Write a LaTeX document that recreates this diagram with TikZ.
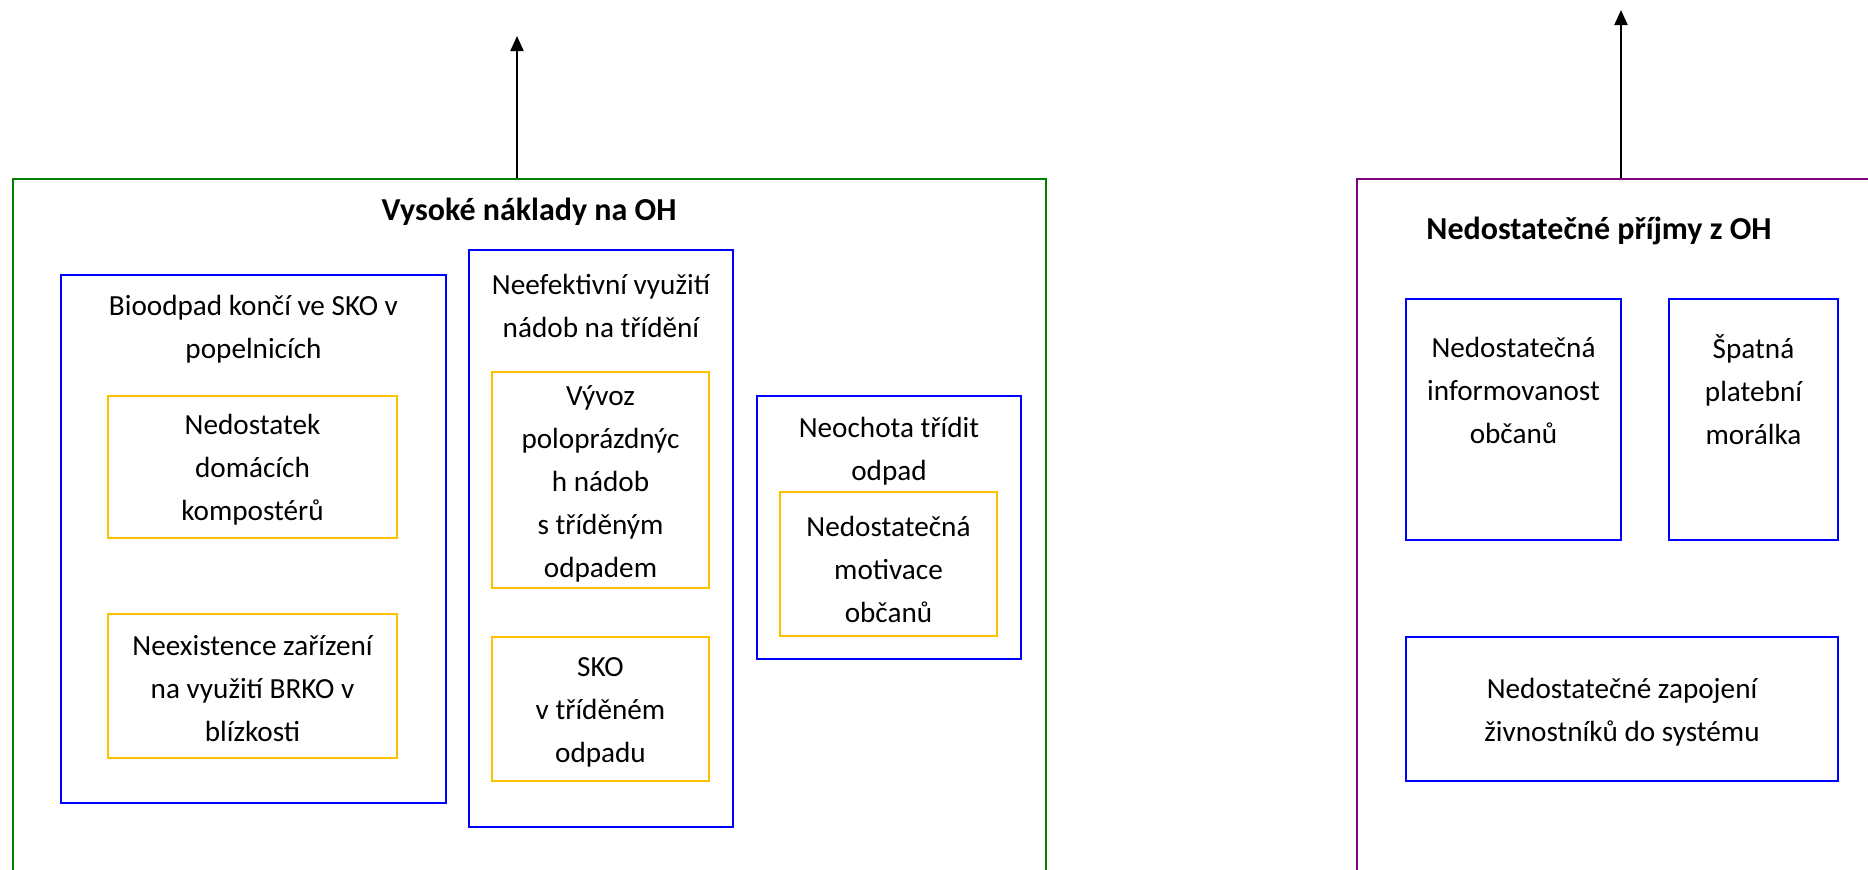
\documentclass[tikz,border=0pt]{standalone}
\usepackage{fontspec}
\setmainfont{Carlito}
\usetikzlibrary{fit,arrows.meta}
\definecolor{grn}{RGB}{0,128,0}
\definecolor{prp}{RGB}{128,0,128}
\definecolor{blu}{RGB}{0,0,255}
\definecolor{ylw}{RGB}{255,192,0}
\tikzset{
  frame/.style={draw, line width=1pt, inner sep=0pt},
  greenbox/.style={frame, draw=grn},
  purplebox/.style={frame, draw=prp},
  bluebox/.style={frame, draw=blu},
  yellowbox/.style={frame, draw=ylw},
  txt/.style={align=center, inner sep=0pt, yshift=-1.5pt, font=\fontsize{14.6}{21.5}\selectfont},
  ttl/.style={inner sep=0pt, yshift=-0.5pt, font=\fontsize{16}{20}\selectfont\bfseries},
  arr/.style={line width=1pt, -{Triangle[length=7.5pt,width=6.5pt]}}
}
\begin{document}
\begin{tikzpicture}[x=0.5pt,y=-0.5pt]
\clip (0,0) rectangle (1868,869);
\fill[white] (0,0) rectangle (1868,869);
% left group
\node[greenbox, fit={(13,179) (1046,960)}] (G) {};
\node[ttl] (Gt) at (529,211) {Vysoké náklady na OH};
\node[bluebox, fit={(61,275) (446,803)}] (A) {};
\node[txt] (At) at (253.5,326) {Bioodpad končí ve SKO v\\popelnicích};
\node[yellowbox, fit={(108,396) (397,538)}] (A1) {};
\node[txt] (A1t) at (A1.center) {Nedostatek\\domácích\\kompostérů};
\node[yellowbox, fit={(108,614) (397,758)}] (A2) {};
\node[txt] (A2t) at (A2.center) {Neexistence zařízení\\na využití BRKO v\\blízkosti};
\node[bluebox, fit={(469,250) (733,827)}] (B) {};
\node[txt] (Bt) at (601,303) {Neefektivní využití\\nádob na třídění};
\node[yellowbox, fit={(492,372) (709,588)}] (B1) {};
\node[txt] (B1t) at (600.5,481) {Vývoz\\poloprázdnýc\\h nádob\\s tříděným\\odpadem};
\node[yellowbox, fit={(492,637) (709,781)}] (B2) {};
\node[txt] (B2t) at (B2.center) {SKO\\v tříděném\\odpadu};
\node[bluebox, fit={(757,396) (1021,659)}] (C) {};
\node[txt] (Ct) at (889,448) {Neochota třídit\\odpad};
\node[yellowbox, fit={(780,492) (997,636)}] (C1) {};
\node[txt] (C1t) at (888.5,566) {Nedostatečná\\motivace\\občanů};
\coordinate (t1) at (517,36);
\draw[arr] (t1 |- G.north) -- (t1);
% right group
\node[purplebox, fit={(1357,179) (1990,960)}] (P) {};
\node[ttl] (Pt) at (1599,230) {Nedostatečné příjmy z OH};
\node[bluebox, fit={(1406,299) (1621,540)}] (D) {};
\node[txt] (Dt) at (1513.5,387) {Nedostatečná\\informovanost\\občanů};
\node[bluebox, fit={(1669,299) (1838,540)}] (E) {};
\node[txt] (Et) at (1753.5,387) {Špatná\\platební\\morálka};
\node[bluebox, fit={(1406,637) (1838,781)}] (F) {};
\node[txt] (Ft) at (F.center) {Nedostatečné zapojení\\živnostníků do systému};
\coordinate (t2) at (1621,10);
\draw[arr] (t2 |- P.north) -- (t2);
\end{tikzpicture}
\end{document}
